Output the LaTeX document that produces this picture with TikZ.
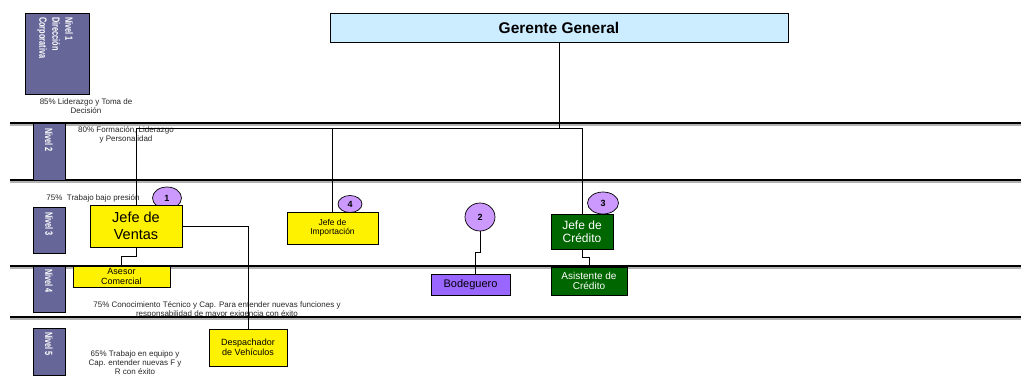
\documentclass[tikz,border=0pt]{standalone}
\usepackage{fontspec}
\setmainfont{Liberation Sans}
\newfontfamily\narrowfont[FakeStretch=0.7]{Liberation Sans}
\usetikzlibrary{shapes.geometric}
\definecolor{gerenteblue}{HTML}{CCECFF}
\definecolor{nivelpurple}{HTML}{666699}
\definecolor{circlelilac}{HTML}{CC99FF}
\definecolor{bodegaviolet}{HTML}{9966FF}
\definecolor{creditgreen}{HTML}{006600}

\begin{document}
\begin{tikzpicture}[x=1pt, y=-1pt,
    puesto/.style={draw, fill=yellow, align=center, inner sep=0pt, line width=0.7pt},
    nivel/.style={draw, fill=nivelpurple, inner sep=0pt, line width=0.7pt},
    niveltexto/.style={rotate=-90, anchor=west, text=white, align=left, inner sep=0pt,
        font=\narrowfont\bfseries\fontsize{10.5}{13}\selectfont},
    nota/.style={align=center, inner sep=0pt, text=black!85,
        font=\fontsize{8}{9}\selectfont},
    num/.style={ellipse, draw, fill=circlelilac, inner sep=0pt, line width=0.7pt,
        font=\bfseries\fontsize{9}{10}\selectfont},
    enlace/.style={line width=0.8pt}]
    \useasboundingbox (0,0) rectangle (1023,377);

    \foreach \ly in {123,180,266,317} {
        \draw[line width=2.4pt, black!30] (10,\ly+1.8) -- (1021,\ly+1.8);
        \draw[line width=2.2pt] (10,\ly) -- (1021,\ly);
    }

    \node[nivel, minimum width=64, minimum height=81] (n1) at (57,53.5) {};
    \node[nivel, minimum width=32, minimum height=57] (n2) at (49,151.5) {};
    \node[nivel, minimum width=32, minimum height=46] (n3) at (49,230) {};
    \node[nivel, minimum width=32, minimum height=46] (n4) at (49,289) {};
    \node[nivel, minimum width=32, minimum height=47] (n5) at (49,351.5) {};
    \node[niveltexto] (t1) at (55,17) {Nivel 1\\Dirección\\Corporativa};
    \node[niveltexto] (t2) at (49,128) {Nivel 2};
    \node[niveltexto] (t3) at (49,212) {Nivel 3};
    \node[niveltexto] (t4) at (49,269) {Nivel 4};
    \node[niveltexto] (t5) at (49,332) {Nivel 5};

    \node[nota] (p1) at (86,106.5) {85\% Liderazgo y Toma de\\Decisión};
    \node[nota] (p2) at (126,135) {80\% Formación, Liderazgo\\y Personalidad};
    \node[nota] (p3) at (93,198) {75\%~ Trabajo bajo presión};
    \node[nota] (p4) at (217,309.5) {75\% Conocimiento Técnico y Cap. Para entender nuevas funciones y\\responsabilidad de mayor exigencia con éxito};
    \node[nota] (p5) at (135,362.5) {65\% Trabajo en equipo y\\Cap. entender nuevas F y\\R con éxito};

    \node[num, minimum width=29, minimum height=22] (c1) at (167,198) {1};
    \node[num, minimum width=24, minimum height=17] (c4) at (350,204) {4};
    \node[num, minimum width=30, minimum height=28] (c2) at (480,217) {2};
    \node[num, minimum width=31, minimum height=22] (c3) at (603,203) {3};

    \node[draw, fill=gerenteblue, line width=0.7pt, minimum width=458, minimum height=29,
        font=\bfseries\fontsize{15.5}{17}\selectfont] (gg) at (559,27.5) {Gerente General};
    \node[puesto, minimum width=92, minimum height=42, font=\fontsize{14.5}{17}\selectfont]
        (jv) at (136,226) {Jefe de\\Ventas};
    \node[puesto, minimum width=97, minimum height=21, font=\fontsize{9}{9.5}\selectfont]
        (ac) at (121.5,276.5) {Asesor\\Comercial};
    \node[puesto, minimum width=78, minimum height=37, font=\fontsize{9}{10}\selectfont]
        (dv) at (248,347.5) {Despachador\\de Vehículos};
    \node[puesto, minimum width=91, minimum height=32, font=\fontsize{8.5}{9.5}\selectfont]
        (ji) at (332.5,228) {Jefe de\\Importación};
    \node[puesto, fill=bodegaviolet, minimum width=79, minimum height=21,
        font=\fontsize{11}{12}\selectfont] (bd) at (470.5,284.5) {Bodeguero};
    \node[puesto, fill=creditgreen, text=white, minimum width=62, minimum height=35,
        font=\fontsize{12}{13.5}\selectfont] (jc) at (582,231.5) {Jefe de\\Crédito};
    \node[puesto, fill=creditgreen, text=white, minimum width=76, minimum height=28,
        font=\fontsize{10}{10.5}\selectfont] (as) at (589,281) {Asistente de\\Crédito};

    \draw[enlace] (gg.south) -- ++(0,86) -| (jv.north);
    \draw[enlace] (gg.south) -- ++(0,86) -| (ji.north);
    \draw[enlace] (gg.south) -- ++(0,86) -| (jc.north);
    \draw[enlace] (jv.south) -- ++(0,9) -| (ac.north);
    \draw[enlace] (jv.east) -| (dv.north);
    \draw[enlace] (c2.south) -- ++(0,21) -| ([xshift=4.5pt]bd.north);
    \draw[enlace] (jc.south) -- ++(0,8) -| (as.north);
\end{tikzpicture}
\end{document}
